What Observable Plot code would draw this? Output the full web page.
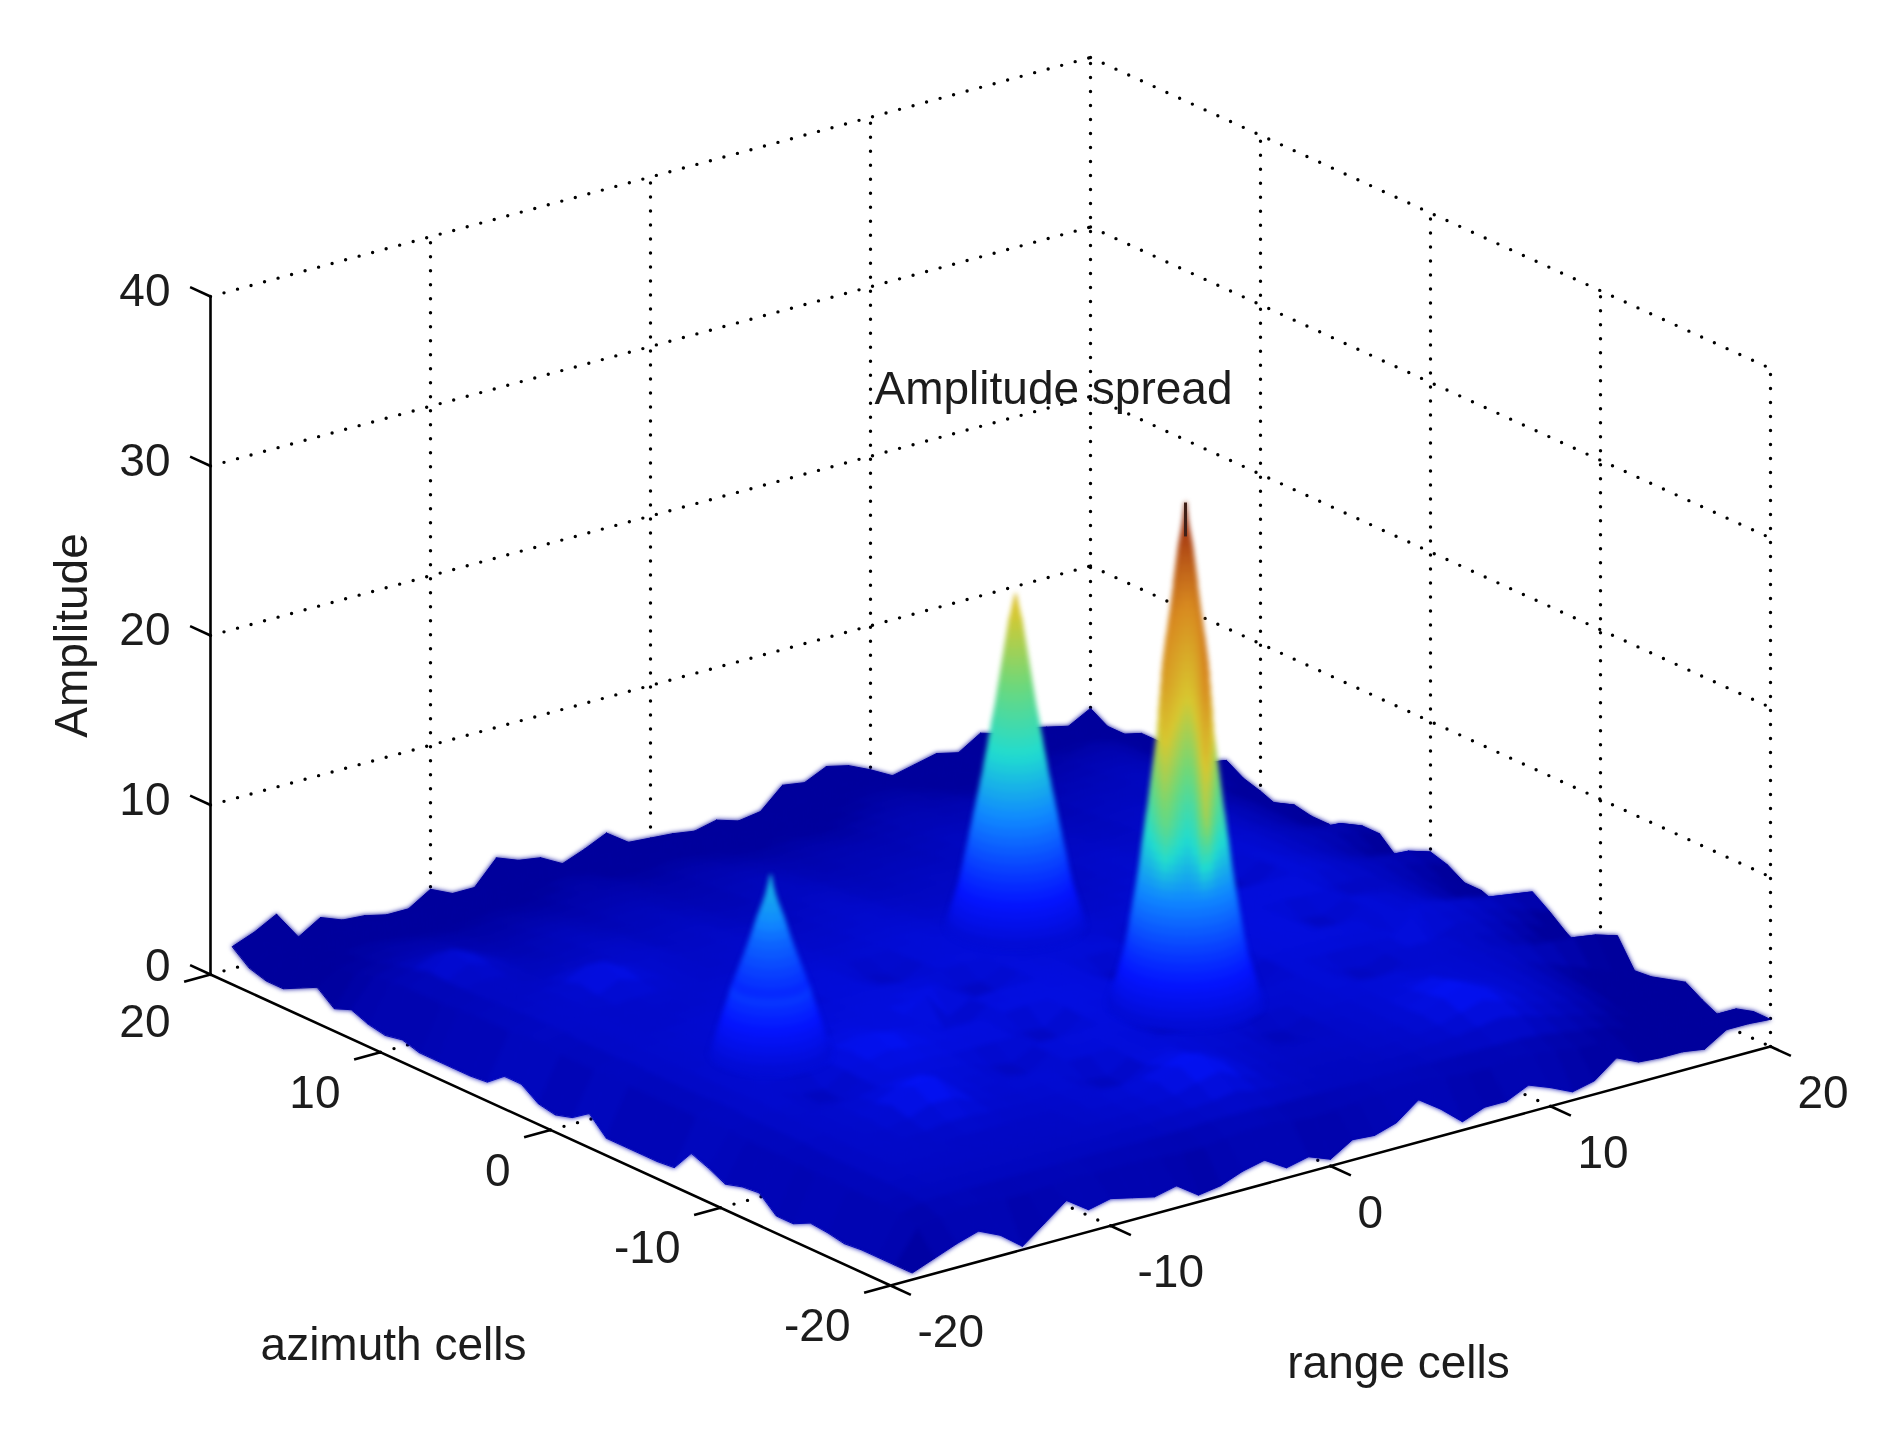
<!DOCTYPE html>
<html><head><meta charset="utf-8">
<script src="https://cdn.jsdelivr.net/npm/d3@7"></script>
<script src="https://cdn.jsdelivr.net/npm/@observablehq/plot@0.6"></script>
<style>html,body{margin:0;background:#fff}svg{display:block;filter:blur(0.7px)}</style>
</head><body><div id="chart"></div>
<script>
// Axis tick values
const rangeTicks=[-20,-10,0,10,20];
const azimuthTicks=[-20,-10,0,10,20];
const amplitudeTicks=[0,10,20,30,40];
const wallLevels=[10,20,30,40];
// Background amplitude (tenths), one row per azimuth from 20 down to -20, columns range -19..20
const amplitudeRows=[
[13,18,25,8,16,11,10,7,7,15,9,9,23,18,16,9,14,20,11,10,9,7,10,6,8,20,18,24,21,15,8,11,14,11,19,15,15,12,9,16],
[5,12,14,10,14,12,11,10,10,13,11,11,16,16,14,11,14,16,12,12,11,10,11,10,10,15,16,18,17,14,10,12,13,12,15,14,14,12,11,10],
[2,14,16,15,16,15,14,13,14,15,14,14,18,19,17,14,16,18,15,14,13,13,14,13,13,17,19,20,19,16,13,15,16,15,17,16,16,15,15,10],
[2,15,19,18,18,17,16,16,17,18,17,18,21,22,20,17,18,20,18,17,16,16,17,16,16,19,21,22,21,19,16,18,19,18,20,19,20,19,17,15],
[7,18,21,22,21,20,19,19,20,21,20,21,23,24,22,20,21,22,21,20,19,19,20,19,19,21,23,24,23,21,19,20,22,21,23,22,24,22,19,15],
[12,20,22,24,24,23,22,22,23,23,22,23,25,24,24,22,23,24,23,22,21,22,22,21,22,24,25,25,24,23,21,22,24,23,25,25,26,23,19,13],
[4,21,24,25,26,25,24,23,24,25,24,25,26,26,25,24,25,26,25,24,23,24,24,23,24,26,27,26,26,25,23,24,25,25,27,27,27,23,18,12],
[8,23,27,28,28,26,25,25,26,27,26,26,27,27,26,25,26,27,27,26,25,25,26,25,26,27,28,27,27,27,25,25,27,27,28,29,27,24,19,14],
[4,25,29,34,32,28,26,27,28,29,27,28,29,28,27,26,27,29,28,27,26,26,27,27,27,28,29,28,28,28,26,27,28,28,30,30,28,26,24,22],
[2,26,32,42,36,30,27,28,30,30,28,28,30,29,28,27,28,30,30,28,27,27,28,27,28,30,30,29,30,29,27,28,30,29,31,30,28,25,21,16],
[4,26,31,38,34,30,29,29,31,31,30,29,31,30,29,28,29,30,31,29,28,28,29,29,29,31,31,30,31,30,28,29,31,30,31,30,27,23,18,13],
[1,26,31,33,32,30,30,31,32,33,31,30,32,31,30,29,30,31,32,30,29,29,30,30,30,31,32,31,31,30,29,30,32,31,31,29,26,22,17,9],
[1,27,31,32,32,31,33,33,33,34,32,31,33,32,31,30,31,32,33,31,30,30,31,31,31,31,32,31,31,31,30,31,33,32,32,29,26,23,19,14],
[1,28,32,32,33,34,40,36,34,35,33,32,33,33,32,31,32,33,34,32,31,31,32,32,31,31,32,32,32,32,31,32,34,33,32,30,27,23,18,12],
[1,28,32,33,34,37,47,40,35,34,33,33,34,34,33,32,33,34,35,33,32,32,32,32,31,30,31,32,33,33,32,33,35,34,33,30,27,23,18,12],
[2,28,33,34,34,35,41,37,35,34,33,33,34,35,34,33,34,35,35,34,33,33,33,32,31,30,31,33,34,34,33,34,35,35,33,30,27,23,17,10],
[10,30,33,34,34,34,35,35,34,34,34,34,35,35,34,34,35,36,36,35,34,34,34,33,32,31,32,33,34,35,34,35,36,35,34,31,28,26,25,20],
[10,30,33,34,34,33,34,34,34,35,35,35,36,36,35,35,36,37,37,36,35,35,34,33,33,32,33,34,35,36,35,36,37,36,34,31,29,27,24,20],
[3,28,32,34,34,33,34,34,35,36,36,36,37,37,36,36,37,38,38,37,36,35,35,34,33,33,34,35,36,36,36,37,38,36,34,31,28,24,18,11],
[1,28,32,34,34,34,35,36,36,32,31,37,38,38,33,31,37,38,38,38,37,33,31,35,34,34,35,36,37,37,32,30,38,37,34,31,27,23,18,14],
[4,28,32,34,34,35,36,36,36,33,31,38,38,38,33,31,38,38,39,38,38,33,30,36,35,35,36,37,38,38,33,30,39,37,35,32,29,28,27,23],
[11,30,33,34,35,35,36,37,37,37,38,38,39,39,38,38,39,39,39,38,38,38,37,36,36,36,41,38,38,39,39,39,39,38,35,33,30,27,24,20],
[1,28,32,34,34,35,36,32,32,38,38,39,39,39,39,39,33,33,39,39,38,38,38,37,32,32,37,45,39,39,39,39,39,33,33,32,28,24,19,14],
[1,28,32,34,35,36,37,31,31,39,39,39,40,40,46,39,32,32,40,39,39,38,38,37,31,31,38,39,39,39,40,39,39,32,32,32,28,24,19,14],
[1,28,32,34,36,37,38,38,39,41,40,39,40,48,32,39,40,40,40,40,39,33,32,38,37,37,38,39,39,40,33,32,39,37,35,32,27,22,17,10],
[1,28,32,34,36,37,38,39,40,43,41,40,40,33,31,40,40,41,40,40,39,32,31,38,37,38,38,39,40,40,33,31,39,37,35,32,27,23,18,12],
[2,28,33,34,36,37,38,39,42,50,46,41,40,40,40,40,41,41,41,40,40,39,39,38,38,38,39,39,40,39,39,39,38,37,37,36,34,31,29,27],
[15,30,33,35,36,32,31,39,41,44,42,41,40,40,39,33,32,41,40,40,39,39,38,45,32,31,38,39,39,39,38,38,32,44,36,34,31,28,24,20],
[11,29,32,34,35,31,30,38,39,40,40,39,39,39,39,32,31,40,40,39,38,38,48,37,31,30,38,38,38,38,37,37,47,30,35,33,29,25,19,12],
[6,28,32,34,34,35,36,38,40,39,38,38,33,31,38,39,39,40,39,33,31,45,37,37,36,36,37,38,33,31,36,36,36,35,33,30,26,21,14,6],
[9,28,32,34,34,35,37,43,46,40,37,37,32,30,38,38,39,39,38,32,30,36,37,36,35,36,37,38,32,30,35,35,35,33,31,28,24,19,13,8],
[10,28,32,34,34,35,40,48,50,39,36,36,37,37,38,38,39,39,38,37,36,36,36,35,35,36,37,38,38,38,36,36,35,34,33,32,31,30,28,24],
[1,27,31,33,34,34,37,42,42,37,35,35,36,37,31,30,38,39,38,37,36,35,30,29,34,35,36,37,37,38,36,36,35,33,30,26,21,16,11,8],
[1,27,31,33,34,33,34,36,36,35,34,34,35,36,31,30,38,42,38,36,35,34,29,29,34,34,36,37,40,44,37,36,35,33,29,24,19,14,10,9],
[6,28,31,33,33,33,32,33,33,33,33,33,35,36,37,38,42,46,40,36,34,33,33,33,33,34,35,37,42,47,40,37,35,32,28,23,18,14,11,12],
[5,27,31,33,33,33,33,32,32,32,32,33,34,35,36,40,46,50,42,36,33,32,32,32,33,34,35,38,44,50,43,37,34,31,27,22,18,15,14,15],
[3,27,31,32,32,32,32,32,32,32,32,33,33,34,35,37,41,44,38,34,32,31,31,31,32,33,34,36,40,44,40,35,32,29,25,20,16,13,11,9],
[4,27,30,31,31,31,31,31,31,31,31,31,32,32,33,34,35,37,34,33,32,31,31,31,31,32,33,34,36,38,36,32,29,26,22,18,14,11,7,4],
[4,26,29,30,30,30,30,30,30,30,30,30,30,30,30,31,31,31,30,30,30,30,30,30,30,30,30,30,30,30,29,27,25,23,19,16,14,13,13,13],
[4,22,25,27,27,25,25,26,27,26,26,26,25,24,24,26,27,27,25,24,25,26,27,28,28,26,25,25,27,26,24,22,22,19,17,16,15,16,16,16],
[4,9,14,18,12,2,12,22,13,16,13,10,13,4,6,11,14,6,9,4,12,11,15,25,16,5,10,10,16,11,5,8,18,12,11,11,9,17,17,16]
];
const badRows=amplitudeRows.map((r,i)=>r.length!==40?i+":"+r.length:null).filter(Boolean);
if(badRows.length||amplitudeRows.length!==41) throw new Error("rows "+amplitudeRows.length+" bad "+badRows);
// The three targets: amplitude against ground radius in cells
const midAmp=[20.5,20,19.5,19,18.5,18,17.5,17,16.5,16,15.5,15,14.5,14,13.5,13,12.5,12,11.5,11,10.5,10,9.5,9,8.5,8,7.5,7,6.5,6,5.5,5,4.5,4,3.5,3,2.5,2,1.5,1];
const midRadius=[0,.07,.14,.22,.27,.32,.37,.42,.47,.52,.57,.62,.67,.72,.78,.84,.89,.95,1.0,1.06,1.12,1.17,1.24,1.3,1.37,1.43,1.5,1.56,1.63,1.69,1.76,1.83,1.89,1.96,2.03,2.12,2.22,2.32,2.42,2.52];
const tallAmp=[30.5,30,29.5,29,28.5,28,27.5,27,26.5,26,25.5,25,24.5,24,23.5,23,22.5,22,21.5,21,20.5,20,19.5,19,18.5,18,17.5,17,16.5,16,15.5,15,14.5,14,13.5,13,12.5,12,11.5,11,10.5,10,9.5,9,8.5,8,7.5,7,6.5,6,5.5,5,4.5,4,3.5,3,2.5,2,1.5,1];
const tallRadius=[0,.03,.07,.12,.18,.24,.28,.32,.36,.40,.43,.47,.51,.55,.6,.64,.69,.73,.77,.81,.84,.86,.89,.91,.94,.96,.98,1.0,1.04,1.08,1.12,1.16,1.2,1.24,1.28,1.32,1.36,1.41,1.45,1.49,1.54,1.58,1.62,1.66,1.71,1.76,1.81,1.87,1.92,1.98,2.03,2.09,2.15,2.22,2.3,2.4,2.5,2.6,2.7,2.8];
const lowAmp=[11.5,11,10.5,10,9.5,9,8.5,8,7.5,7,6.5,6,5.5,5,4.5,4,3.5,3,2.5,2,1.5,1];
const lowRadius=[0,.06,.14,.24,.36,.48,.58,.68,.79,.9,1.02,1.14,1.26,1.38,1.48,1.58,1.68,1.78,1.88,1.98,2.08,2.18];
// Vertical colour streaks on the tallest target: screen offset from its axis and amplitude shift
const streakOffset=[-60,-35,-20,0,8,20,32,60];
const streakShift=[0,.5,3,0,.5,5,1,0];
const streakReach=[8,12,20,28];
const streakWeight=[0,1,1,0];
// Colour of the skirts, fading into the background around each target's foot
const skirtAmp=[1,5,8];
const skirtColour=[3.6,6,8];
const targets=[
 {range:5,azimuth:5,amp:midAmp,radius:midRadius,streaks:false,colourGain:1},
 {range:5,azimuth:-5,amp:tallAmp,radius:tallRadius,streaks:true,colourGain:1},
 {range:-10,azimuth:0,amp:lowAmp,radius:lowRadius,streaks:false,colourGain:.9}
];
// colormap, as the JPEG's muted jet
const jetLevels=[0,2,5,8,11.5,15.5,19.5,24.7,28.9,33];
const jetColors=["#00009c","#00009c","#0414ff","#1088ff","#20dcd0","#70d878","#d8c830","#d88a20","#a83c14","#501408"];

// Orthographic view of the box
const project=(r,a,z)=>[890+(r+20)*22-(a+20)*17,1285-(r+20)*5.975-(a+20)*7.775-z*16.95];
const depth=(r,a)=>project(r,a,0)[1];

// Surface patches
const patches=[];
const rangeAt=k=>k-19, azAt=m=>20-m;
for(let m=0;m<40;m++)for(let k=0;k<39;k++){
  const c=[[k,m],[k+1,m],[k+1,m+1],[k,m+1]];
  const zs=c.map(([i,j])=>amplitudeRows[j][i]/10);
  const frontStrip=m===39||k===0;
  patches.push({d:depth(rangeAt(k+.5),azAt(m+.5)),v:frontStrip?d3.max(zs):d3.mean(zs),pts:c.map(([i,j],n)=>project(rangeAt(i),azAt(j),zs[n]))});
}
patches.sort((p,q)=>d3.ascending(p.d,q.d));
// Target patches, far side first
const sectors=36;
const shiftAt=d3.scaleLinear(streakOffset,streakShift).clamp(true);
const weightAt=d3.scaleLinear(streakReach,streakWeight).clamp(true);
const colourAt=d3.scaleLinear(skirtAmp,skirtColour);
const conePatches=[];
for(const t of targets){
  const tp=[];
  const cx=project(t.range,t.azimuth,0)[0];
  for(let i=0;i<t.amp.length-1;i++)for(let s=0;s<sectors;s++){
    const a0=s/sectors*2*Math.PI,a1=(s+1)/sectors*2*Math.PI;
    const pt=(ring,ang)=>project(t.range+t.radius[ring]*Math.cos(ang),t.azimuth+t.radius[ring]*Math.sin(ang),t.amp[ring]);
    const mid=(a0+a1)/2,rm=(t.radius[i]+t.radius[i+1])/2,am=(t.amp[i]+t.amp[i+1])/2;
    const cen=project(t.range+rm*Math.cos(mid),t.azimuth+rm*Math.sin(mid),am);
    const v=(am<8?colourAt(am):(t.streaks?am+shiftAt(cen[0]-cx)*weightAt(am):am))*(am<5?1:t.colourGain);
    tp.push({d:depth(t.range+rm*Math.cos(mid),t.azimuth+rm*Math.sin(mid)),v,
      pts:[pt(i,a0),pt(i,a1),pt(i+1,a1),pt(i+1,a0)]});
  }
  tp.sort((p,q)=>d3.ascending(p.d,q.d));
  conePatches.push(...tp);
}
const toVertices=list=>list.flatMap((p,id)=>p.pts.map(([x,y])=>({x,y,id,v:p.v})));
const surface=toVertices(patches), cones=toVertices(conePatches);

const seg=(a,b)=>{const [x1,y1]=project(...a),[x2,y2]=project(...b);return {x1,y1,x2,y2};};
const dotted=[
  ...[-10,0,10,20].map(r=>seg([r,20,0],[r,20,40])),
  ...[10,0,-10,-20].map(a=>seg([20,a,0],[20,a,40])),
  ...[0,...wallLevels].flatMap(z=>[seg([-20,20,z],[20,20,z]),seg([20,20,z],[20,-20,z])]),
  ...[-10,0,10].flatMap(v=>[seg([v,-20,0],[v,20,0]),seg([-20,v,0],[20,v,0])])
];
const tickLen=1.2;
const solid=[
  seg([-20,20,0],[-20,20,40]),seg([-20,20,0],[-20,-20,0]),seg([-20,-20,0],[20,-20,0]),
  ...amplitudeTicks.map(z=>seg([-20,20,z],[-20,20+tickLen,z])),
  ...azimuthTicks.map(a=>seg([-20,a,0],[-20-tickLen,a,0])),
  ...rangeTicks.map(r=>seg([r,-20,0],[r,-20-tickLen,0]))
];
const tallTip=[seg([5,-5,tallAmp[0]],[5,-5,tallAmp[4]])];
const at=i=>d=>d.p[i];
const amplitudeLabels=amplitudeTicks.map(v=>({v,p:project(-20,20,v)}));
const azimuthLabels=azimuthTicks.map(v=>({v,p:project(-20,v,0)}));
const rangeLabels=rangeTicks.map(v=>({v,p:project(v,-20,0)}));
const font={fontFamily:"'Liberation Sans',Arial,sans-serif",fontSize:46,fill:"#1c1c1c"};

const plot=Plot.plot({
  width:1880,height:1444,margin:0,
  x:{domain:[0,1880],range:[0,1880],axis:null},
  y:{domain:[0,1444],range:[0,1444],axis:null},
  color:{type:"linear",domain:jetLevels,range:jetColors},
  style:{background:"#fff"},
  marks:[
    Plot.link(dotted,{x1:"x1",y1:"y1",x2:"x2",y2:"y2",stroke:"#000",strokeWidth:3.4,strokeDasharray:"0,14",strokeLinecap:"round"}),
    Plot.link(solid,{x1:"x1",y1:"y1",x2:"x2",y2:"y2",stroke:"#000",strokeWidth:2.6}),
    Plot.line(surface,{x:"x",y:"y",z:"id",fill:"v",stroke:"v",strokeWidth:1,curve:"linear-closed"}),
    Plot.line(surface,{x:"x",y:"y",z:"id",fill:"v",stroke:"v",strokeWidth:1,curve:"linear-closed",imageFilter:"blur(2.5px)"}),
    Plot.line(cones,{x:"x",y:"y",z:"id",fill:"v",stroke:"v",strokeWidth:1,curve:"linear-closed",imageFilter:"blur(2.4px)"}),
    Plot.link(tallTip,{x1:"x1",y1:"y1",x2:"x2",y2:"y2",stroke:"#402018",strokeWidth:3}),
    Plot.text(amplitudeLabels,{x:at(0),y:d=>d.p[1]-(d.v===0?3:0),text:d=>String(d.v),textAnchor:"end",dx:-40,dy:-5,...font}),
    Plot.text(azimuthLabels,{x:at(0),y:d=>d.p[1]+(d.v===20?7:0),text:d=>String(d.v),textAnchor:"end",dx:-40,dy:41,...font}),
    Plot.text(rangeLabels,{x:at(0),y:at(1),text:d=>String(d.v),textAnchor:"start",dx:27,dy:47,...font}),
    Plot.text(["Amplitude spread"],{x:()=>1053,y:()=>389,...font}),
    Plot.text(["azimuth cells"],{x:()=>393,y:()=>1345,...font}),
    Plot.text(["range cells"],{x:()=>1398,y:()=>1363,...font}),
    Plot.text(["Amplitude"],{x:()=>72,y:()=>635,rotate:-90,...font})
  ]
});
document.getElementById("chart").append(plot);
</script></body></html>
